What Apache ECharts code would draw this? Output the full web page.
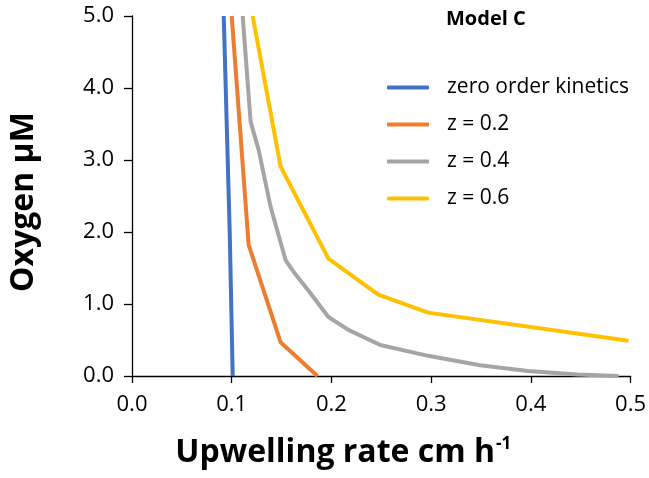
<!DOCTYPE html>
<html>
<head>
<meta charset="utf-8">
<script src="https://cdn.jsdelivr.net/npm/echarts@6/dist/echarts.min.js"></script>
<style>
  html, body { margin: 0; padding: 0; background: #fff; }
  #chart { width: 649px; height: 478px; }
</style>
</head>
<body>
<div id="chart"></div>
<script>
// upwelling rate (x) vs oxygen (y)
var zeroX = [0.092, 0.098, 0.101]
var zeroY = [5.0, 2.0, 0.0]

var z2X = [0.100, 0.117, 0.149, 0.186]
var z2Y = [5.0, 1.82, 0.47, 0.0]

var z4X = [0.111, 0.119, 0.127, 0.139, 0.154, 0.163, 0.179, 0.197, 0.217, 0.249, 0.297, 0.349, 0.397, 0.447, 0.488]
var z4Y = [5.0, 3.53, 3.14, 2.35, 1.61, 1.43, 1.15, 0.82, 0.64, 0.43, 0.28, 0.15, 0.07, 0.02, 0.0]

var z6X = [0.121, 0.149, 0.197, 0.247, 0.297, 0.498]
var z6Y = [5.0, 2.91, 1.63, 1.13, 0.88, 0.49]

var seriesNames = ['zero order kinetics', 'z = 0.2', 'z = 0.4', 'z = 0.6']
var seriesColors = ['#4472C4', '#ED7D31', '#A5A5A5', '#FFC000']

function pairs(xs, ys) {
  return xs.map(function (x, i) { return [x, ys[i]] })
}

var allData = [pairs(zeroX, zeroY), pairs(z2X, z2Y), pairs(z4X, z4Y), pairs(z6X, z6Y)]

var font = '"Open Sans", "DejaVu Sans", sans-serif'
var chart = echarts.init(document.getElementById('chart'))

chart.setOption({
  animation: false,
  title: {
    text: 'Model C',
    left: 441,
    top: 4,
    textStyle: { fontFamily: font, fontSize: 20, fontWeight: 'bold', color: '#000' }
  },
  legend: {
    orient: 'vertical',
    left: 382,
    top: 72,
    icon: 'roundRect',
    itemWidth: 42,
    itemHeight: 4,
    itemGap: 16,
    textStyle: { fontFamily: font, fontSize: 21, lineHeight: 21, color: '#000', padding: [0, 0, 0, 13] },
    data: seriesNames
  },
  grid: { left: 130, right: 17, top: 16, bottom: 102, containLabel: false },
  xAxis: {
    type: 'value',
    min: 0,
    max: 0.5,
    interval: 0.1,
    name: '{a|Upwelling rate cm h}{b|-1}',
    nameLocation: 'middle',
    nameGap: 60,
    nameTextStyle: {
      padding: [0, 76, 0, 0],
      rich: {
        a: { fontFamily: font, fontSize: 32, fontWeight: 'bold', color: '#000' },
        b: { fontFamily: font, fontSize: 17, fontWeight: 'bold', color: '#000', verticalAlign: 'top', padding: [0, 0, 16, 1] }
      }
    },
    axisLine: { lineStyle: { color: '#000', width: 1.3 } },
    axisTick: { show: true, length: 7, lineStyle: { color: '#000', width: 1.3 } },
    axisLabel: {
      fontFamily: font, fontSize: 22, color: '#000', margin: 18,
      formatter: function (v) { return v.toFixed(1) }
    },
    splitLine: { show: false }
  },
  yAxis: {
    type: 'value',
    min: 0,
    max: 5,
    interval: 1,
    name: 'Oxygen μM',
    nameLocation: 'middle',
    nameGap: 92,
    nameTextStyle: { fontFamily: font, fontSize: 32, fontWeight: 'bold', color: '#000', padding: [0, 12, 0, 0] },
    axisLine: { show: true, lineStyle: { color: '#000', width: 1.3 } },
    axisTick: { show: true, length: 8, lineStyle: { color: '#000', width: 1.3 } },
    axisLabel: {
      fontFamily: font, fontSize: 22, color: '#000', margin: 18,
      formatter: function (v) { return v.toFixed(1) }
    },
    splitLine: { show: false }
  },
  series: seriesNames.map(function (name, i) {
    return {
      name: name,
      type: 'line',
      data: allData[i],
      symbol: 'none',
      smooth: false,
      clip: false,
      color: seriesColors[i],
      lineStyle: { color: seriesColors[i], width: 4 }
    }
  })
})
</script>
</body>
</html>
